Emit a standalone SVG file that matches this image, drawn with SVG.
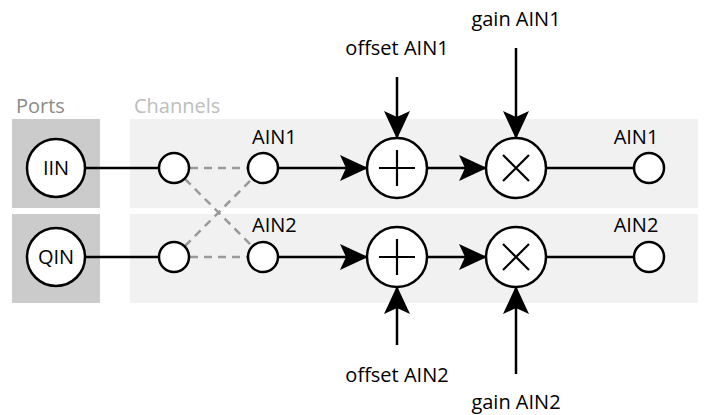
<svg xmlns="http://www.w3.org/2000/svg" width="710" height="415" viewBox="0 0 710 415">
<defs>
<style>
.port{fill:#cbcbcb}
.band{fill:#f1f1f1}
.node{fill:#fff;stroke:#000;stroke-width:2.5}
.wire{stroke:#000;stroke-width:2.5;fill:none}
.dash{stroke:#9a9a9a;stroke-width:2.5;stroke-dasharray:8 6;fill:none}
.sym{stroke:#000;stroke-width:2.2;fill:none}
text{font-family:"Open Sans","Noto Sans",sans-serif;font-size:20px;fill:#000}
.hdr{font-size:20px}
</style>
<marker id="ah" viewBox="0 0 28 26" refX="27" refY="13" markerWidth="28" markerHeight="26" markerUnits="userSpaceOnUse" orient="auto">
<path d="M0,0 L28,13 L0,26 L6,13 Z" fill="#000"/>
</marker>
</defs>
<rect fill="#fff" width="710" height="415"/>
<g id="backgrounds">
<rect class="port" x="12" y="119" width="88" height="89"/>
<rect class="port" x="12" y="214" width="88" height="89"/>
<rect class="band" x="130" y="119" width="568" height="89"/>
<rect class="band" x="130" y="214" width="568" height="89"/>
<text class="hdr" x="16" y="113" style="fill:#8a8a8a">Ports</text>
<text class="hdr" x="134" y="113" style="fill:#bdbdbd">Channels</text>
</g>
<g id="connectors">
<line class="wire" x1="85" y1="168" x2="159" y2="168"/>
<line class="wire" x1="85" y1="257" x2="159" y2="257"/>
<line class="dash" x1="190" y1="168" x2="248" y2="168"/>
<line class="dash" x1="190" y1="257" x2="248" y2="257"/>
<line class="dash" x1="185" y1="179" x2="252" y2="246"/>
<line class="dash" x1="185" y1="246" x2="252" y2="179"/>
<line class="wire" x1="278" y1="168" x2="367" y2="168" marker-end="url(#ah)"/>
<line class="wire" x1="278" y1="257" x2="367" y2="257" marker-end="url(#ah)"/>
<line class="wire" x1="427" y1="168" x2="486" y2="168" marker-end="url(#ah)"/>
<line class="wire" x1="427" y1="257" x2="486" y2="257" marker-end="url(#ah)"/>
<line class="wire" x1="546" y1="168" x2="634" y2="168"/>
<line class="wire" x1="546" y1="257" x2="634" y2="257"/>
<line class="wire" x1="397" y1="77" x2="397" y2="138" marker-end="url(#ah)"/>
<line class="wire" x1="516" y1="48" x2="516" y2="138" marker-end="url(#ah)"/>
<line class="wire" x1="397" y1="345" x2="397" y2="287" marker-end="url(#ah)"/>
<line class="wire" x1="516" y1="374" x2="516" y2="287" marker-end="url(#ah)"/>
</g>
<g id="IIN"><circle class="node" cx="56" cy="168" r="29"/><text x="56" y="175" text-anchor="middle">IIN</text></g>
<g id="QIN"><circle class="node" cx="56" cy="257" r="29"/><text x="56" y="264" text-anchor="middle">QIN</text></g>
<g id="in1a"><circle class="node" cx="174" cy="168" r="15"/></g>
<g id="in2a"><circle class="node" cx="174" cy="257" r="15"/></g>
<g id="ch1"><circle class="node" cx="263" cy="168" r="15"/><text x="252" y="144">AIN1</text></g>
<g id="ch2"><circle class="node" cx="263" cy="257" r="15"/><text x="252" y="232">AIN2</text></g>
<g id="add1"><circle class="node" cx="397" cy="168" r="30"/><path class="sym" d="M397,150 V186 M379,168 H415"/></g>
<g id="add2"><circle class="node" cx="397" cy="257" r="30"/><path class="sym" d="M397,239 V275 M379,257 H415"/></g>
<g id="mul1"><circle class="node" cx="516" cy="168" r="30"/><path class="sym" d="M503,155 L529,181 M529,155 L503,181"/></g>
<g id="mul2"><circle class="node" cx="516" cy="257" r="30"/><path class="sym" d="M503,244 L529,270 M529,244 L503,270"/></g>
<g id="out1"><circle class="node" cx="649" cy="168" r="15"/><text x="636" y="144" text-anchor="middle">AIN1</text></g>
<g id="out2"><circle class="node" cx="649" cy="257" r="15"/><text x="636" y="232" text-anchor="middle">AIN2</text></g>
<g id="offset1"><text x="397" y="55" text-anchor="middle">offset AIN1</text></g>
<g id="gain1"><text x="516" y="26" text-anchor="middle">gain AIN1</text></g>
<g id="offset2"><text x="397" y="382" text-anchor="middle">offset AIN2</text></g>
<g id="gain2"><text x="516" y="409" text-anchor="middle">gain AIN2</text></g>
</svg>
